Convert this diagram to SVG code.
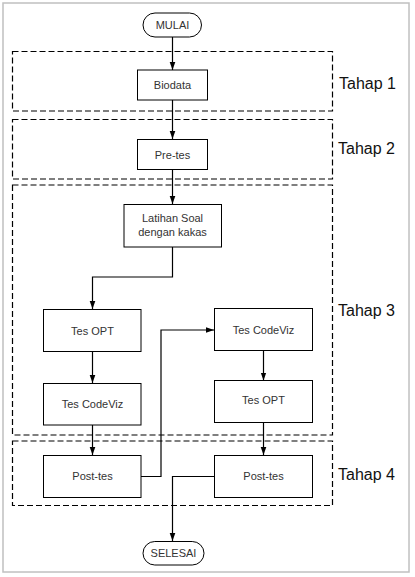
<svg xmlns="http://www.w3.org/2000/svg" width="415" height="577" viewBox="0 0 415 577">
<defs>
<marker id="arr" markerWidth="8" markerHeight="11" refX="10" refY="3.5" orient="auto" markerUnits="userSpaceOnUse" viewBox="0 0 10 7">
<path d="M0,0 L10,3.5 L0,7 Z" fill="#000"/>
</marker>
<style>
.frame{fill:#fff;stroke:#c0c0c0;stroke-width:1.5}
.stage{fill:none;stroke:#000;stroke-width:1.2;stroke-dasharray:6,3}
.box{fill:#fff;stroke:#000;stroke-width:1}
.lbl{font-family:"Liberation Sans",Arial,sans-serif;font-size:11px;fill:#333;text-anchor:middle}
.tahap{font-family:"Liberation Sans",Arial,sans-serif;font-size:16px;fill:#111}
.conn{fill:none;stroke:#000;stroke-width:1.2;marker-end:url(#arr)}
</style>
</defs>
<rect x="3" y="3" width="406" height="569" class="frame"/>
<g id="stages">
<rect x="12.5" y="51.5" width="320" height="59.5" class="stage"/>
<rect x="12.5" y="119.5" width="320" height="59.5" class="stage"/>
<rect x="12.5" y="185" width="320" height="250" class="stage"/>
<rect x="12.5" y="441" width="320" height="64.5" class="stage"/>
<text x="339" y="89" class="tahap">Tahap 1</text>
<text x="338" y="154" class="tahap">Tahap 2</text>
<text x="338" y="316" class="tahap">Tahap 3</text>
<text x="338" y="480" class="tahap">Tahap 4</text>
</g>
<g id="connectors">
<path d="M172.5,37 V70" class="conn"/>
<path d="M172.5,100 V139" class="conn"/>
<path d="M172.5,169 V204" class="conn"/>
<path d="M172.5,247 V277 H92.5 V309" class="conn"/>
<path d="M92.5,351.5 V383" class="conn"/>
<path d="M92.5,425 V455" class="conn"/>
<path d="M263.5,350.5 V380.5" class="conn"/>
<path d="M263.5,422.5 V455" class="conn"/>
<path d="M141,476.5 H161 V330 H214" class="conn"/>
<path d="M214,476.5 H172.5 V541" class="conn"/>
</g>
<g id="mulai">
<rect x="143" y="13" width="58.5" height="24" rx="12" class="box"/>
<text x="172.5" y="29" class="lbl">MULAI</text>
</g>
<g id="biodata">
<rect x="137.5" y="70" width="70" height="30" class="box"/>
<text x="172.5" y="89" class="lbl">Biodata</text>
</g>
<g id="pretes">
<rect x="137.5" y="139.5" width="70" height="30" class="box"/>
<text x="172.5" y="158.5" class="lbl">Pre-tes</text>
</g>
<g id="latihan">
<rect x="124" y="204.5" width="97.5" height="42.5" class="box"/>
<text x="172.5" y="222" class="lbl">Latihan Soal</text>
<text x="172.5" y="236" class="lbl">dengan kakas</text>
</g>
<g id="tesopt1">
<rect x="43.5" y="309.5" width="97.5" height="42" class="box"/>
<text x="92.5" y="334.5" class="lbl">Tes OPT</text>
</g>
<g id="tescodeviz1">
<rect x="43.5" y="383.5" width="97.5" height="41.5" class="box"/>
<text x="92.5" y="407.5" class="lbl">Tes CodeViz</text>
</g>
<g id="tescodeviz2">
<rect x="214.5" y="308.5" width="98" height="42" class="box"/>
<text x="263.5" y="333.5" class="lbl">Tes CodeViz</text>
</g>
<g id="tesopt2">
<rect x="214.5" y="380.5" width="98" height="42" class="box"/>
<text x="263.5" y="403.5" class="lbl">Tes OPT</text>
</g>
<g id="posttes1">
<rect x="43.5" y="455.5" width="97.5" height="42" class="box"/>
<text x="92.5" y="480" class="lbl">Post-tes</text>
</g>
<g id="posttes2">
<rect x="214.5" y="455.5" width="98" height="42" class="box"/>
<text x="263.5" y="480" class="lbl">Post-tes</text>
</g>
<g id="selesai">
<rect x="143" y="541.5" width="61" height="23.5" rx="11.75" class="box"/>
<text x="173.5" y="557" class="lbl">SELESAI</text>
</g>
</svg>
